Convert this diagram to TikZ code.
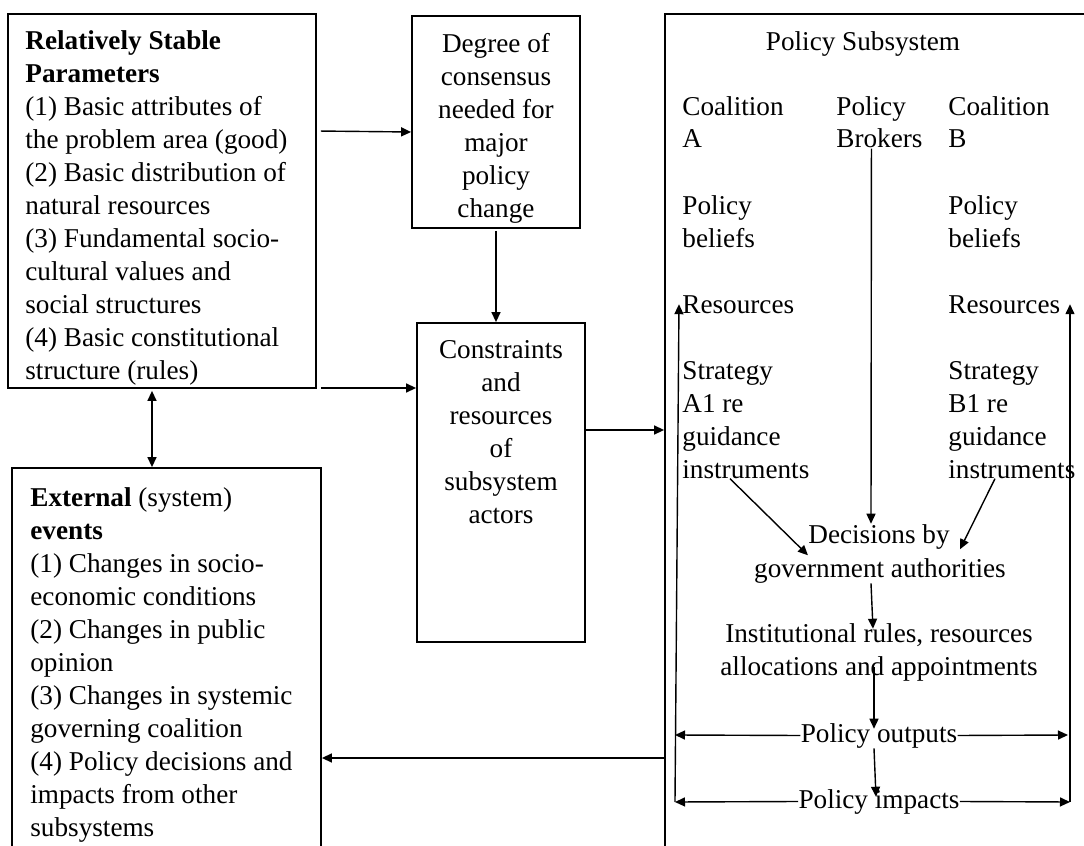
\documentclass[tikz,border=0pt]{standalone}
\usepackage{fontspec}
\setmainfont{Liberation Serif}
\usetikzlibrary{arrows.meta}
\tikzset{
  frame/.style={draw, line width=0.9pt, inner sep=0pt},
  txt/.style={inner sep=0pt, align=left, anchor=base west, font=\fontsize{13.6pt}{16.5pt}\selectfont},
  ctxt/.style={txt, align=center, anchor=base},
  arr/.style={-{Triangle[length=5pt,width=4.5pt]}, line width=0.7pt},
  darr/.style={{Triangle[length=5pt,width=4.5pt]}-{Triangle[length=5pt,width=4.5pt]}, line width=0.7pt}
}
\begin{document}
\begin{tikzpicture}[x=0.5pt, y=-0.5pt]
  \useasboundingbox (0,0) rectangle (1084,846);
  \clip (0,0) rectangle (1084,846);
  % boxes
  \node[frame, minimum width=154pt, minimum height=187pt] (stable) at (162,201) {};
  \node[frame, minimum width=84pt, minimum height=106pt] (degree) at (496,122) {};
  \node[frame, minimum width=84pt, minimum height=159.5pt] (cons) at (501,482.5) {};
  \node[frame, minimum width=154.5pt, minimum height=201pt] (ext) at (166.5,669) {};
  \node[frame, minimum width=217.5pt, minimum height=428pt] (subsys) at (882.5,442) {};
  % box texts (placed by the baseline of their last line)
  \node[txt] (stabletxt) at (25,379) {\textbf{Relatively Stable}\\\textbf{Parameters}\\(1) Basic attributes of\\the problem area (good)\\(2) Basic distribution of\\natural resources\\(3) Fundamental socio-\\cultural values and\\social structures\\(4) Basic constitutional\\structure (rules)};
  \node[ctxt] (degreetxt) at (496,217) {Degree of\\consensus\\needed for\\major\\policy\\change};
  \node[ctxt] (constxt) at (501,523) {Constraints\\and\\resources\\of\\subsystem\\actors};
  \node[txt] (exttxt) at (30,836) {\textbf{External} (system)\\\textbf{events}\\(1) Changes in socio-\\economic conditions\\(2) Changes in public\\opinion\\(3) Changes in systemic\\governing coalition\\(4) Policy decisions and\\impacts from other\\subsystems};
  % subsystem
  \node[ctxt] (title) at (863,50) {Policy Subsystem};
  \node[txt] (coalA) at (682,148) {Coalition\\A};
  \node[txt] (brokers) at (836,148) {Policy\\Brokers};
  \node[txt] (coalB) at (948,148) {Coalition\\B};
  \node[txt] (beliefA) at (682,247) {Policy\\beliefs};
  \node[txt] (beliefB) at (948,247) {Policy\\beliefs};
  \node[txt] (resA) at (682,313) {Resources};
  \node[txt] (resB) at (948,313) {Resources};
  \node[txt] (stratA) at (682,478) {Strategy\\A1 re\\guidance\\instruments};
  \node[txt] (stratB) at (948,478) {Strategy\\B1 re\\guidance\\instruments};
  \node[ctxt] (dec1) at (879,543) {Decisions by};
  \node[ctxt] (dec2) at (880,577) {government authorities};
  \node[ctxt] (inst) at (879,675) {Institutional rules, resources\\allocations and appointments};
  \node[ctxt] (outputs) at (879,742) {Policy outputs};
  \node[ctxt] (impacts) at (879,808) {Policy impacts};
  \coordinate (outL) at (675,735);
  \coordinate (outR) at (1068,735);
  \coordinate (impL) at (675,802);
  \coordinate (impR) at (1070,802);
  % outer connectors
  \draw[arr, shorten <=2pt] (stable.east |- 0,131) -- (degree.west |- 0,132);
  \draw[arr, shorten <=2pt] (stable.east |- 0,388) -- (cons.west |- 0,388);
  \draw[arr, shorten <=1pt] (degree.south) -- (degree.south |- cons.north);
  \draw[darr, shorten <=1pt] ([xshift=-5pt]stable.south) -- ([xshift=-7.25pt]ext.north);
  \draw[arr] (cons.east |- 0,430) -- (subsys.west |- 0,430);
  \draw[arr] (subsys.west |- 0,758) -- (ext.east |- 0,758);
  % inner connectors
  \draw[arr] ([xshift=-4pt]brokers.south) -- ([xshift=-4pt]dec1.north);
  \draw[arr] ([xshift=24pt]stratA.south west) -- ([yshift=-3pt]dec1.south west);
  \draw[arr] ([xshift=23.5pt]stratB.south west) -- ([xshift=5pt]dec1.south east);
  \draw[arr] ([xshift=-4.5pt]dec2.south) -- ([xshift=-3pt,yshift=-3pt]inst.north);
  \draw[arr] ([xshift=-2.5pt,yshift=7pt]inst.south) -- ([xshift=-2.5pt,yshift=-3pt]outputs.north);
  \draw[arr] ([xshift=-2.5pt]outputs.south) -- ([xshift=-1.5pt,yshift=-4pt]impacts.north);
  \draw[arr] (outputs.west) -- (outL);
  \draw[arr] (outputs.east) -- (outR);
  \draw[arr] (impacts.west) -- (impL);
  \draw[arr] (impacts.east) -- (impR);
  \draw[arr] (impL) -- ([xshift=-1.5pt]resA.west);
  \draw[arr] (impR) -- (impR |- resB.west);
\end{tikzpicture}
\end{document}
